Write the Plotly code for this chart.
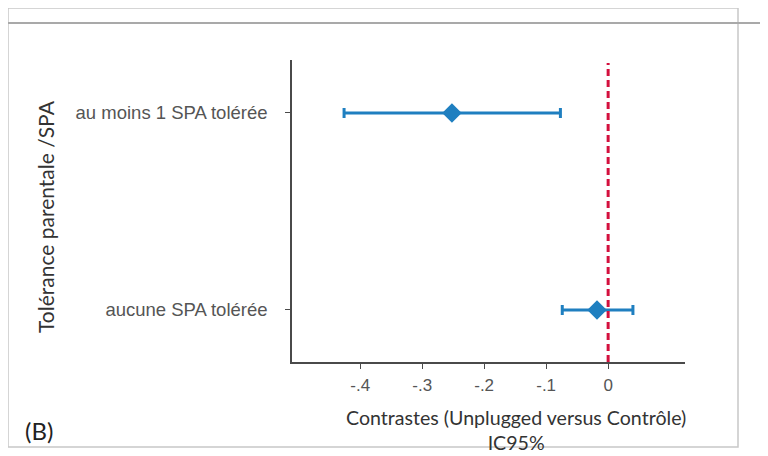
import plotly.graph_objects as go

categories = ["aucune SPA tolérée", "au moins 1 SPA tolérée"]
estimates = [-0.018, -0.252]
ci_low = [-0.074, -0.426]
ci_high = [0.040, -0.077]
tick_vals = [-0.4, -0.3, -0.2, -0.1, 0]
tick_text = ["-.4", "-.3", "-.2", "-.1", "0"]

err_plus = [h - e for h, e in zip(ci_high, estimates)]
err_minus = [e - l for e, l in zip(estimates, ci_low)]

# page offset of the figure inside the browser (default body margin)
OFF = 8
W, H = 768 - OFF, 456 - OFF
L, T = 292 - OFF, 60 - OFF
R = W - (685 - OFF)
B = H - (362 - OFF)
pw, ph = W - L - R, H - T - B

def px(x):
    return (x - OFF - L) / pw

def py(y):
    return (H - B - (y - OFF)) / ph

fig = go.Figure()
fig.add_trace(go.Scatter(
    x=estimates, y=[0, 1], mode="markers",
    marker=dict(symbol="diamond", size=15, color="#1f7fc0"),
    error_x=dict(type="data", symmetric=False, array=err_plus, arrayminus=err_minus,
                 color="#1f7fc0", thickness=3, width=5),
    showlegend=False, hoverinfo="skip",
))

fig.add_shape(type="line", xref="x", yref="paper", x0=0, x1=0, y0=0, y1=0.99,
              line=dict(color="#d4103e", width=3, dash="7px,4px"))

# decorative frame lines
grey = "#a9a9a9"
fig.add_shape(type="rect", xref="paper", yref="paper", x0=px(8), x1=px(738), y0=py(8), y1=py(447),
              line=dict(color="#c8c8c8", width=1.5), layer="below")
fig.add_shape(type="line", xref="paper", yref="paper", x0=px(8), x1=px(768), y0=py(23), y1=py(23),
              line=dict(color=grey, width=2))

fig.add_annotation(text="Contrastes (Unplugged versus Contrôle)<br>IC95%", xref="paper", yref="paper",
                   x=px(516), y=py(430), showarrow=False, xanchor="center", yanchor="middle",
                   font=dict(family="Lato", size=19.6, color="#333333"))
fig.add_annotation(text="Tolérance parentale /SPA", xref="paper", yref="paper",
                   x=px(45), y=py(217), showarrow=False, textangle=-90,
                   xanchor="center", yanchor="middle",
                   font=dict(family="Lato", size=21, color="#333333"))
fig.add_annotation(text="(B)", xref="paper", yref="paper",
                   x=px(39), y=py(430), showarrow=False, xanchor="center", yanchor="middle",
                   font=dict(family="Lato", size=24, color="#222222"))

fig.update_layout(
    width=W, height=H,
    margin=dict(l=L, r=R, t=T, b=B),
    paper_bgcolor="white", plot_bgcolor="white",
    xaxis=dict(range=[-0.51, 0.124], tickvals=tick_vals, ticktext=tick_text,
               showgrid=False, zeroline=False, showline=True, linecolor="#4a4a4a", linewidth=1.5,
               ticks="outside", ticklen=5, tickcolor="#4a4a4a", ticklabelstandoff=2,
               tickfont=dict(family="Liberation Sans", size=17, color="#555555")),
    yaxis=dict(range=[-0.264, 1.269], tickvals=[0, 1], ticktext=categories,
               showgrid=False, zeroline=False, showline=True, linecolor="#4a4a4a", linewidth=1.5,
               ticks="outside", ticklen=5, tickcolor="#4a4a4a", ticklabelstandoff=14,
               tickfont=dict(family="Liberation Sans", size=18.5, color="#555555")),
)

fig.write_html("out.html")
